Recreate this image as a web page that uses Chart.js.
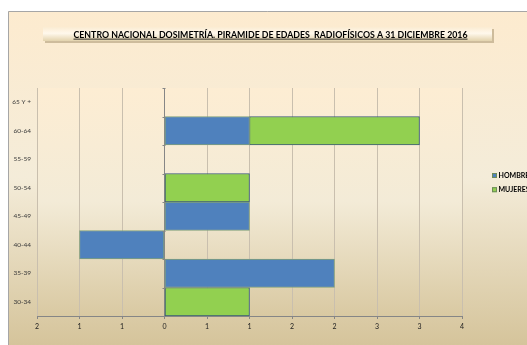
<!DOCTYPE html>
<html><head><meta charset="utf-8">
<script src="https://cdn.jsdelivr.net/npm/chart.js@4/dist/chart.umd.min.js"></script>
<style>html,body{margin:0;padding:0;background:#fff;overflow:hidden}canvas{display:block}</style>
</head><body>
<canvas id="c" width="527" height="345"></canvas>
<script>
const chartTitle = "CENTRO NACIONAL DOSIMETRÍA. PIRAMIDE DE EDADES  RADIOFÍSICOS A 31 DICIEMBRE 2016";
const categories = ["65 Y +","60-64","55-59","50-54","45-49","40-44","35-39","30-34"];
const seriesNames = ["HOMBRES","MUJERES"];
const hombres = [0,1,0,0,1,-1,2,0];
const mujeres = [0,2,0,1,0,0,0,1];
const xMin = -1.5, xMax = 3.5, xStep = 0.5;
const colors = ["#4f81bd","#92d050"];
const borders = ["#7f9f7a","#3b5a78"];

const bgPlugin = {
  id:'bg',
  beforeDraw(chart){
    const ctx = chart.ctx, a = chart.chartArea;
    ctx.save();
    ctx.fillStyle = '#fff'; ctx.fillRect(0,0,chart.width,chart.height);
    const g = ctx.createLinearGradient(0,11,0,345);
    g.addColorStop(0,'#fdebcf'); g.addColorStop(0.5,'#f4ecd9'); g.addColorStop(1,'#d5c49b');
    ctx.fillStyle = g; ctx.fillRect(8,11,chart.width,chart.height);
    ctx.strokeStyle = '#a6a6a6'; ctx.lineWidth = 1;
    ctx.beginPath(); ctx.moveTo(8.5,chart.height); ctx.lineTo(8.5,11.5); ctx.lineTo(chart.width,11.5); ctx.stroke();
    const pg = ctx.createLinearGradient(0,a.top,0,a.bottom);
    pg.addColorStop(0,'#fdedd3'); pg.addColorStop(0.5,'#f3ebd7'); pg.addColorStop(1,'#d9c9a2');
    ctx.fillStyle = pg; ctx.fillRect(a.left,a.top,a.right-a.left,a.bottom-a.top);
    const bx=43, by=27, bw=449, bh=14;
    ctx.fillStyle='rgba(150,130,90,0.45)'; ctx.fillRect(bx+2,by+2,bw,bh);
    const tg = ctx.createLinearGradient(0,by,0,by+bh);
    tg.addColorStop(0,'#fbecd2'); tg.addColorStop(0.45,'#fff8ec'); tg.addColorStop(1,'#e3d3ad');
    ctx.fillStyle=tg; ctx.fillRect(bx,by,bw,bh);
    ctx.font='bold 9px Lato';
    const tw = ctx.measureText(chartTitle).width, target = 394;
    ctx.translate(73.5,35.5); ctx.scale(target/tw,1);
    ctx.fillStyle='#000'; ctx.textBaseline='middle'; ctx.textAlign='left';
    ctx.fillText(chartTitle,0,0);
    ctx.fillRect(0,3.2,tw,0.8);
    ctx.restore();
  },
  afterDraw(chart){
    const ctx = chart.ctx;
    ctx.save();
    const xs = chart.scales.x, ys = chart.scales.y;
    const x0 = Math.round(xs.getPixelForValue(0))+0.5;
    ctx.strokeStyle='#868686'; ctx.lineWidth=1;
    for(let i=0;i<=categories.length;i++){
      const y = Math.round(ys.top + i*(ys.bottom-ys.top)/categories.length)+0.5;
      ctx.beginPath(); ctx.moveTo(x0-3,y); ctx.lineTo(x0,y); ctx.stroke();
    }
    const ly=[175.5,189.7];
    chart.data.datasets.forEach((d,i)=>{
      ctx.fillStyle=d.backgroundColor; ctx.fillRect(492,ly[i]-2.5,5,5);
      ctx.strokeStyle='#6d8a5a'; ctx.strokeRect(492.5,ly[i]-2,4,4);
      ctx.fillStyle='#000'; ctx.font='bold 7px Lato'; ctx.textBaseline='middle';
      ctx.fillText(d.label,498.5,ly[i]+0.5);
    });
    ctx.restore();
  }
};

new Chart(document.getElementById('c'),{
  type:'bar',
  data:{
    labels:categories,
    datasets:[
      {label:seriesNames[0],data:hombres.map(v=>v||null),backgroundColor:colors[0],borderColor:borders[0],borderWidth:1,borderSkipped:false,categoryPercentage:1,barPercentage:1},
      {label:seriesNames[1],data:mujeres.map(v=>v||null),backgroundColor:colors[1],borderColor:borders[1],borderWidth:1,borderSkipped:false,categoryPercentage:1,barPercentage:1}
    ]
  },
  options:{
    indexAxis:'y',
    responsive:false,
    animation:false,
    devicePixelRatio:1,
    layout:{padding:{left:0,right:65,top:88,bottom:0}},
    plugins:{legend:{display:false},title:{display:false},tooltip:{enabled:false}},
    scales:{
      x:{
        stacked:true,min:xMin,max:xMax,
        afterFit(s){s.height=29;},
        border:{display:true,color:'#868686'},
        grid:{color:(c)=>c.tick&&c.tick.value===0?'#868686':'#c9bfae',tickColor:'#868686',tickLength:3},
        ticks:{stepSize:xStep,padding:4,color:'#222',font:{family:'Lato',size:7},
          callback:(v)=>String(Math.round(Math.abs(v)))}
      },
      y:{
        stacked:true,
        afterFit(s){s.width=37;},
        border:{display:false},
        grid:{display:false},
        ticks:{padding:-2,color:'#3a3a3a',font:{family:'Lato',size:6.5}}
      }
    }
  },
  plugins:[bgPlugin]
});
</script>
</body></html>
